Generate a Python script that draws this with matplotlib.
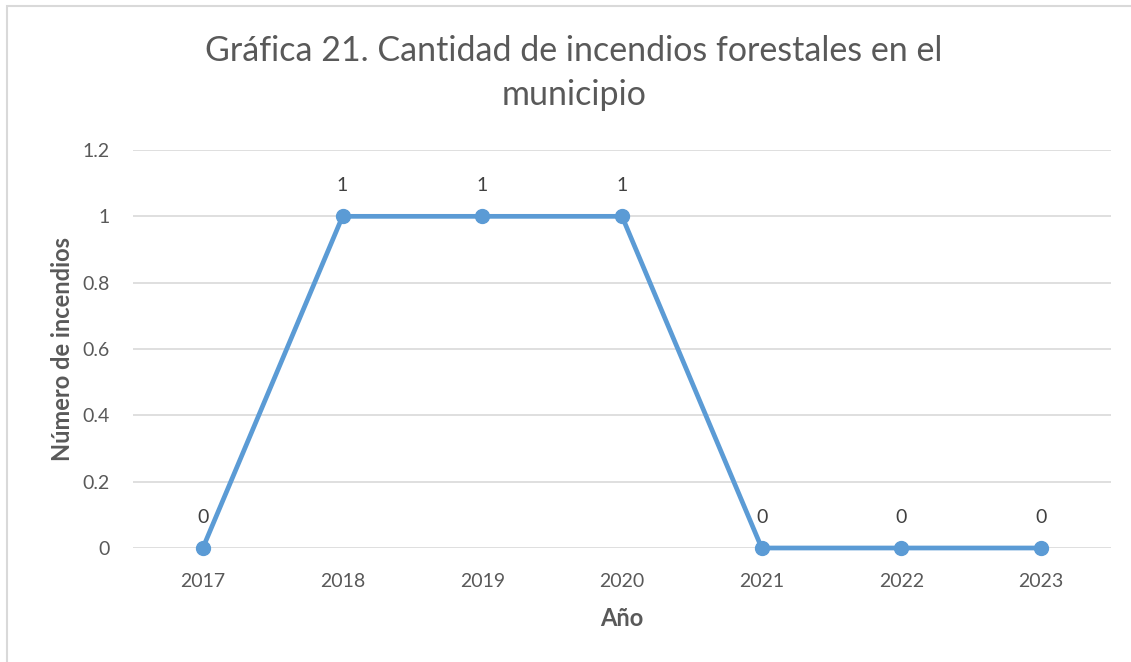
import matplotlib
matplotlib.use('Agg')
import matplotlib.pyplot as plt
from matplotlib.patches import Rectangle

# === 資料 ===
years = ["2017", "2018", "2019", "2020", "2021", "2022", "2023"]
incendios = [0, 1, 1, 1, 0, 0, 0]
y_ticks = [0, 0.2, 0.4, 0.6, 0.8, 1, 1.2]
y_tick_labels = ["0", "0.2", "0.4", "0.6", "0.8", "1", "1.2"]

TITLE = "Gráfica 21. Cantidad de incendios forestales en el\nmunicipio"
LINE_COLOR = "#5B9BD5"
TEXT_COLOR = "#595959"
GRID_COLOR = "#D9D9D9"

plt.rcParams['font.family'] = ['Lato', 'DejaVu Sans']

W, H = 1131, 662
fig = plt.figure(figsize=(W / 100, H / 100), dpi=100)

# chart area border (cropped at right/bottom)
fig.patches.append(Rectangle((7 / W, -0.05), 1.1, 1 - 6 / H + 0.05, transform=fig.transFigure,
                             fill=False, edgecolor=GRID_COLOR, linewidth=1.5))

ax = fig.add_axes([133 / W, 114 / H, (1111 - 133) / W, (548 - 150) / H])

x = list(range(len(years)))
ax.plot(x, incendios, color=LINE_COLOR, linewidth=3.4, marker="o", markersize=10,
        solid_capstyle="round", zorder=3, clip_on=False)

for xi, v in zip(x, incendios):
    ax.annotate(f"{v:g}", (xi, v), xytext=(0, 16), textcoords="offset points",
                ha="center", va="bottom", fontsize=14, color="#404040")

ax.set_xlim(-0.5, len(years) - 0.5)
ax.set_ylim(0, 1.2)
ax.set_xticks(x)
ax.set_xticklabels(years)
ax.set_yticks(y_ticks)
ax.set_yticklabels(y_tick_labels)
ax.tick_params(axis="both", length=0, labelsize=14, labelcolor=TEXT_COLOR)
ax.tick_params(axis="x", pad=18)
ax.tick_params(axis="y", pad=17)
ax.grid(axis="y", color=GRID_COLOR, linewidth=1.2)
ax.set_axisbelow(True)
for s in ax.spines.values():
    s.set_visible(False)

ax.set_xlabel("Año", fontsize=17, fontweight="bold", color=TEXT_COLOR, labelpad=12)
ax.set_ylabel("Número de incendios", fontsize=17, fontweight="bold", color=TEXT_COLOR, labelpad=6)

fig.text(574 / W, 1 - 73 / H, TITLE, ha="center", va="center", fontsize=24.5,
         color=TEXT_COLOR, linespacing=1.45)

fig.savefig("out.png", dpi=100)
